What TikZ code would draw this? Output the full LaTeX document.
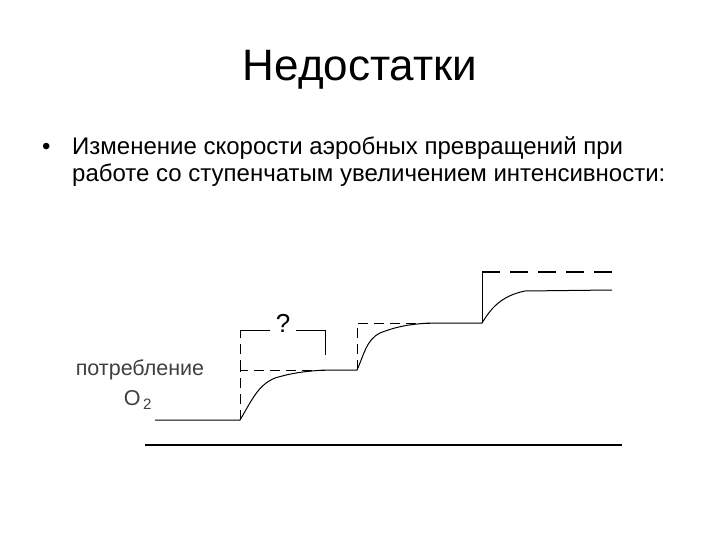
\documentclass[tikz,border=0pt]{standalone}
\usepackage{fontspec}
\setmainfont{Liberation Sans}
\begin{document}
\begin{tikzpicture}[x=1pt,y=-1pt,
  ln/.style={line width=1pt},
  dsh/.style={line width=0.8pt,dash pattern=on 10pt off 6pt},
  tx/.style={inner sep=0pt}]
\useasboundingbox (0,0) rectangle (720,540);
\node[tx,font=\fontsize{44}{50}\selectfont] (title) at (360,70) {Недостатки};
\node[tx,anchor=base west,font=\fontsize{24}{28}\selectfont] (b) at (42,155) {•};
\node[tx,anchor=base west,font=\fontsize{24}{28}\selectfont] (l1) at (72,155) {Изменение скорости аэробных превращений при};
\node[tx,anchor=base west,font=\fontsize{24}{28}\selectfont] (l2) at (72,182) {работе со ступенчатым увеличением интенсивности:};
\node[tx,font=\fontsize{21.5}{24}\selectfont\color{black!75}] (lab) at (140,370) {потребление};
\node[tx,font=\fontsize{21.5}{24}\selectfont\color{black!75}] (o2) at (138,400) {O\textsubscript{\,2}};
\node[tx,font=\fontsize{26}{28}\selectfont] (q) at (283,323) {?};
% axis
\draw[line width=2pt] (145,445) -- (622,445);
% curve
\draw[ln] (155,420) -- (240,420)
  .. controls (252,400) and (258,385) .. (275,378)
  .. controls (295,372) and (310,371) .. (325,370) -- (357,370)
  .. controls (364,355) and (366,340) .. (380,333)
  .. controls (400,325) and (415,324) .. (430,323) -- (482,323)
  .. controls (490,310) and (500,296) .. (525,291)
  -- (612,290);
% dashed
\draw[dsh] (240,420) -- (240,370) -- (325,370);
\draw[dsh] (240,370) -- (240,330);
\draw[ln] (240,330) -- (270,330);
\draw[ln] (296,330) -- (325,330) -- (325,355);
\draw[dsh] (357,370) -- (357,323) -- (430,323);
\draw[line width=1pt] (482,323) -- (482,272);
\draw[line width=1.2pt,dash pattern=on 18pt off 10pt] (482,272) -- (612,272);
\end{tikzpicture}
\end{document}
